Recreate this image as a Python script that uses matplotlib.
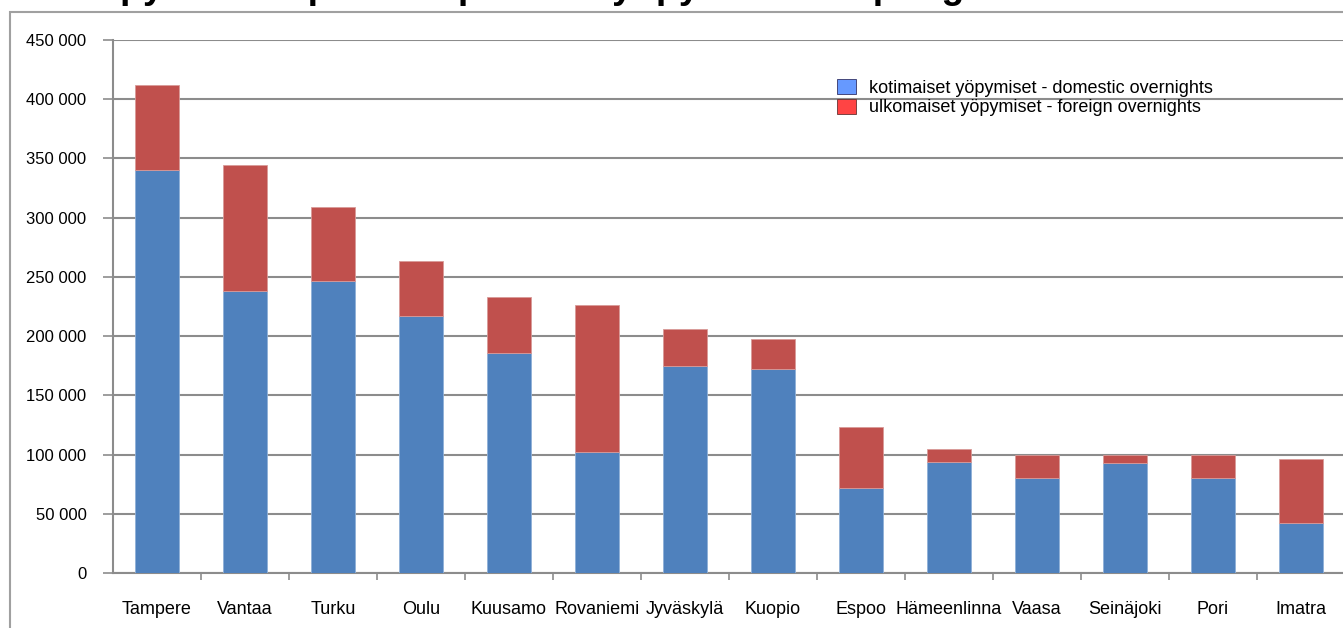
import matplotlib
matplotlib.use("Agg")
from matplotlib import pyplot as plt
from matplotlib.patches import Patch, Rectangle
from matplotlib.ticker import FuncFormatter, FixedLocator

# overnights per city
cities = ["Tampere", "Vantaa", "Turku", "Oulu", "Kuusamo", "Rovaniemi", "Jyväskylä",
          "Kuopio", "Espoo", "Hämeenlinna", "Vaasa", "Seinäjoki", "Pori", "Imatra"]
domestic = [340000, 238000, 246500, 217000, 185500, 102000, 175000,
            172000, 72000, 94000, 80000, 92500, 80500, 42000]
foreign = [72000, 106500, 62500, 46500, 47500, 124000, 31000,
           25500, 51000, 10500, 19500, 7000, 19000, 54000]

title = "Yöpymiset top 14 kaupunkia - yöpymiset kaupungeittain"

plt.rcParams['font.family'] = ['Liberation Sans', 'DejaVu Sans']

fig = plt.figure(figsize=(13.43, 6.28), dpi=100)
W, H = 1343, 628

# outer chart frame (partly cut off)
fig.patches.append(Rectangle((10 / W, -0.1), 1.2, 1 - 12 / H + 0.1, transform=fig.transFigure,
                             fill=False, edgecolor='#a0a0a0', linewidth=1.5))

# title sits above the picture, only its descenders show
fig.text(72 / W, 1 + 1.5 / H, title, fontsize=27, fontweight='bold', ha='left', va='baseline')

ax = fig.add_axes([113 / W, 55 / H, 1232 / W, 533 / H])
x = list(range(len(cities)))
ax.bar(x, domestic, width=0.5, color='#4F81BD', edgecolor='#8fb0d8', linewidth=0.6, zorder=3)
ax.bar(x, foreign, width=0.5, bottom=domestic, color='#C0504D', edgecolor='#d89a98',
       linewidth=0.6, zorder=3)

ax.set_xlim(-0.5, len(cities) - 0.5)
ax.set_ylim(0, 450000)
ax.set_yticks(range(0, 450001, 50000))
ax.yaxis.set_major_formatter(FuncFormatter(lambda v, p: f"{int(v):,}".replace(",", " ")))
ax.grid(axis='y', color='#8c8c8c', linewidth=1.5, zorder=1)

ax.xaxis.set_major_locator(FixedLocator([i + 0.5 for i in range(len(cities) - 1)]))
ax.xaxis.set_major_formatter(FuncFormatter(lambda v, p: ""))
ax.xaxis.set_minor_locator(FixedLocator(x))
ax.set_xticklabels(cities, minor=True)
ax.tick_params(axis='x', which='major', length=5, color='#8c8c8c', width=1.2)
ax.tick_params(axis='x', which='minor', length=0, pad=20, labelsize=13)
ax.tick_params(axis='y', length=7, color='#8c8c8c', width=1.2, pad=12, labelsize=12)

for s in ['top', 'right']:
    ax.spines[s].set_visible(False)
for s in ['left', 'bottom']:
    ax.spines[s].set_color('#8c8c8c')
    ax.spines[s].set_linewidth(1.5)

handles = [Patch(facecolor='#6699FF', edgecolor='#333366', linewidth=0.6,
                 label='kotimaiset yöpymiset - domestic overnights'),
           Patch(facecolor='#FF4444', edgecolor='#663333', linewidth=0.6,
                 label='ulkomaiset yöpymiset - foreign overnights')]
fig.legend(handles=handles, loc='upper left', bbox_to_anchor=(837 / W, 1 - 79 / H),
           frameon=False, fontsize=13, handlelength=1.05, handleheight=0.9,
           handletextpad=0.7, labelspacing=0.1, borderpad=0, borderaxespad=0)

fig.savefig("out.png", dpi=100)
